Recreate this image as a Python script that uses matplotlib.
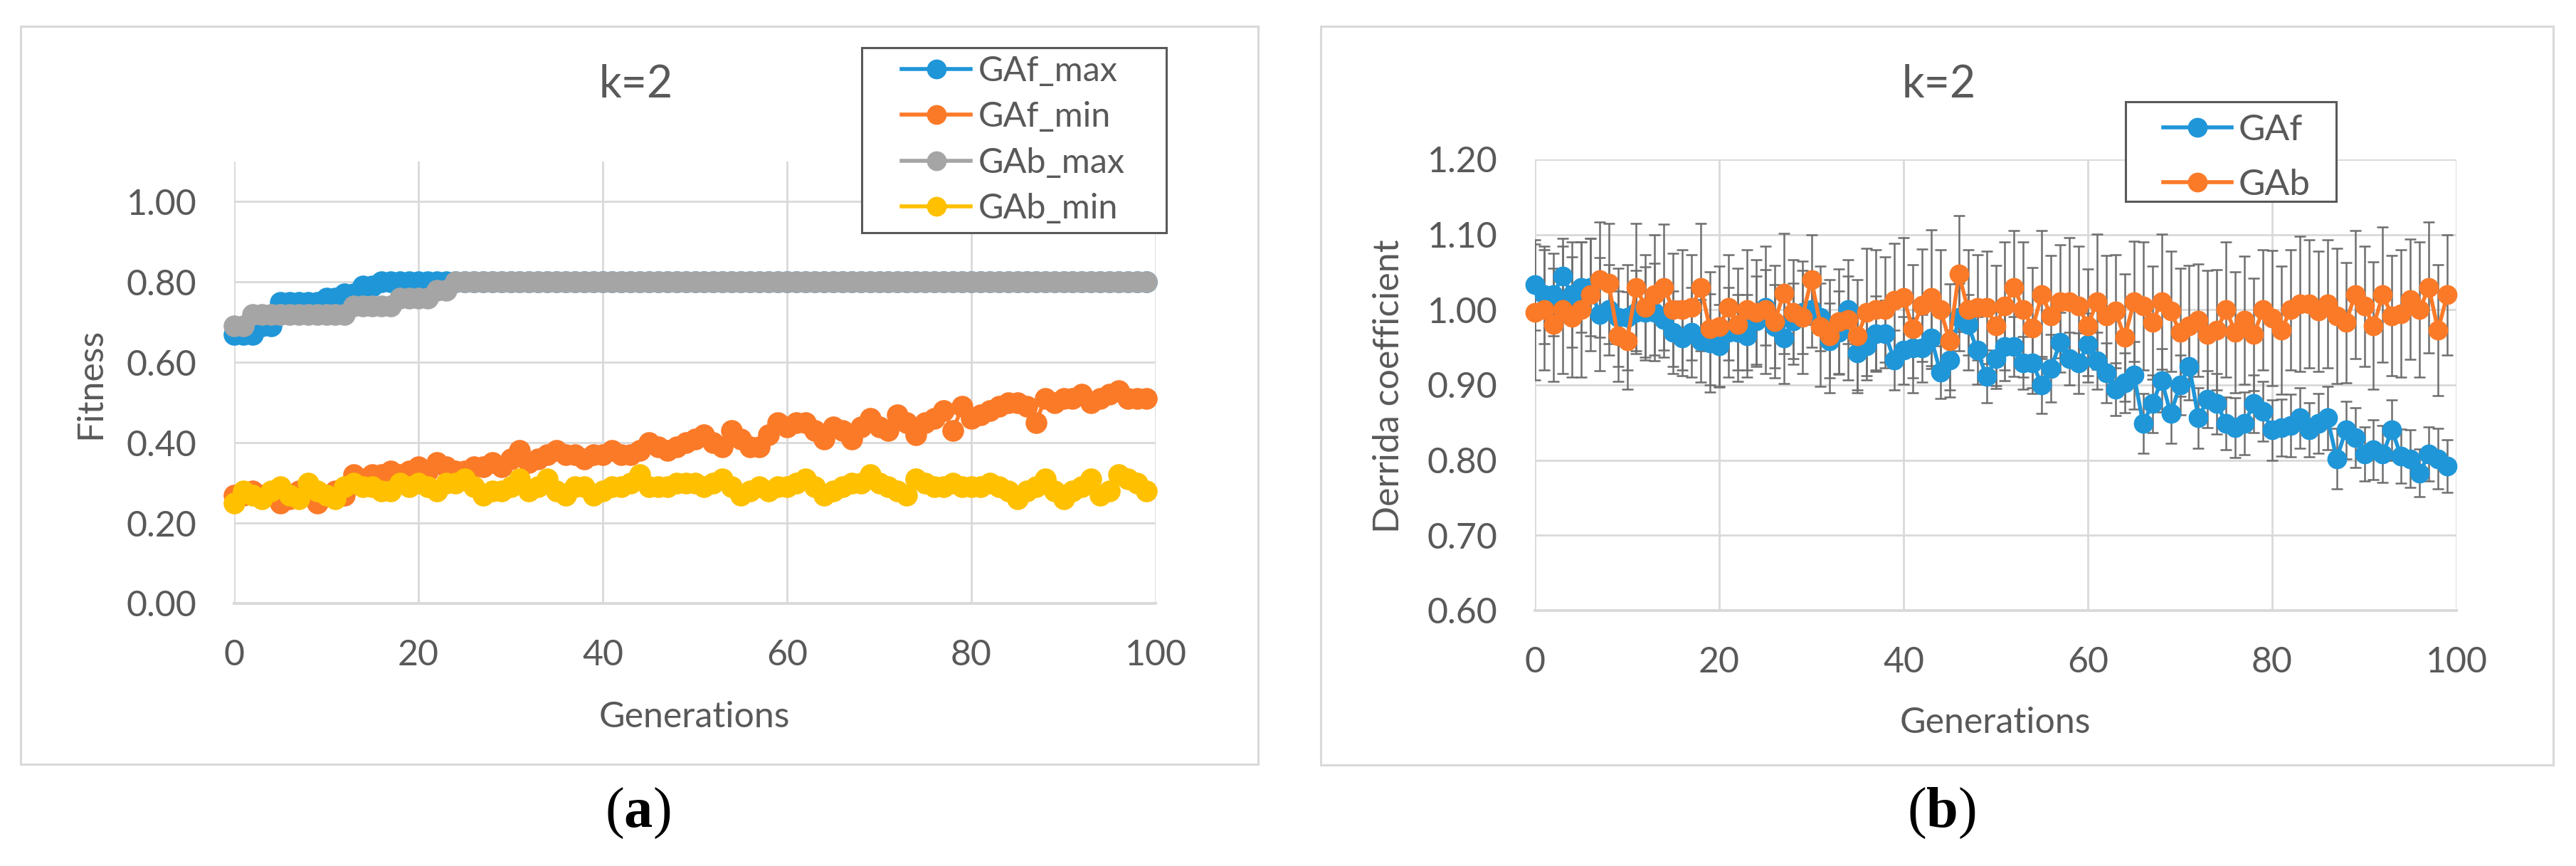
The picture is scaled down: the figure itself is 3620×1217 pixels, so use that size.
import matplotlib
matplotlib.use("Agg")
import matplotlib.pyplot as plt
from matplotlib.patches import Rectangle
from matplotlib.lines import Line2D
from matplotlib.ticker import FormatStrFormatter, FixedLocator

plt.rcParams['font.family'] = ['Lato', 'DejaVu Sans']
plt.rcParams['mathtext.fontset'] = 'custom'
plt.rcParams['mathtext.rm'] = 'Liberation Serif'
plt.rcParams['mathtext.bf'] = 'Liberation Serif:bold'

# ---------------- data ----------------
generations = list(range(100))

gaf_max = [0.67, 0.67, 0.67, 0.69, 0.69, 0.75, 0.75, 0.75, 0.75, 0.75,
           0.76, 0.76, 0.77, 0.77, 0.79, 0.79] + [0.80] * 84
gab_max = [0.69, 0.69] + [0.72] * 11 + [0.74] * 5 + [0.76] * 4 + [0.78] * 2 + [0.80] * 76

gaf_min = [0.27, 0.27, 0.28, 0.27, 0.27, 0.25, 0.26, 0.28, 0.27, 0.25,
           0.27, 0.28, 0.27, 0.32, 0.31, 0.32, 0.32, 0.33, 0.32, 0.33,
           0.34, 0.33, 0.35, 0.34, 0.33, 0.33, 0.34, 0.34, 0.35, 0.34,
           0.36, 0.38, 0.35, 0.36, 0.37, 0.38, 0.37, 0.37, 0.36, 0.37,
           0.37, 0.38, 0.37, 0.37, 0.38, 0.40, 0.39, 0.38, 0.39, 0.40,
           0.41, 0.42, 0.40, 0.39, 0.43, 0.41, 0.39, 0.39, 0.42, 0.45,
           0.44, 0.45, 0.45, 0.43, 0.41, 0.44, 0.43, 0.41, 0.44, 0.46,
           0.44, 0.43, 0.47, 0.45, 0.42, 0.45, 0.46, 0.48, 0.43, 0.49,
           0.46, 0.47, 0.48, 0.49, 0.50, 0.50, 0.49, 0.45, 0.51, 0.50,
           0.51, 0.51, 0.52, 0.50, 0.51, 0.52, 0.53, 0.51, 0.51, 0.51]

gab_min = [0.25, 0.28, 0.27, 0.26, 0.28, 0.29, 0.27, 0.26, 0.30, 0.28,
           0.27, 0.26, 0.29, 0.30, 0.29, 0.29, 0.28, 0.28, 0.30, 0.29,
           0.30, 0.29, 0.28, 0.30, 0.30, 0.31, 0.29, 0.27, 0.28, 0.28,
           0.29, 0.31, 0.28, 0.29, 0.31, 0.28, 0.27, 0.29, 0.29, 0.27,
           0.28, 0.29, 0.29, 0.30, 0.32, 0.29, 0.29, 0.29, 0.30, 0.30,
           0.30, 0.29, 0.30, 0.31, 0.29, 0.27, 0.28, 0.29, 0.28, 0.29,
           0.29, 0.30, 0.31, 0.29, 0.27, 0.28, 0.29, 0.30, 0.30, 0.32,
           0.30, 0.29, 0.28, 0.27, 0.31, 0.30, 0.29, 0.29, 0.30, 0.29,
           0.29, 0.29, 0.30, 0.29, 0.28, 0.26, 0.28, 0.29, 0.31, 0.28,
           0.26, 0.28, 0.29, 0.31, 0.27, 0.28, 0.32, 0.31, 0.30, 0.28]

derrida_gaf = [1.033, 1.020, 1.020, 1.045, 1.020, 1.030, 1.030, 0.994, 1.000, 0.990,
               0.990, 0.997, 0.997, 0.997, 0.987, 0.970, 0.962, 0.970, 0.959, 0.956,
               0.952, 0.970, 0.970, 0.965, 0.985, 1.003, 0.978, 0.962, 0.985, 0.997,
               1.000, 0.990, 0.959, 0.970, 1.000, 0.943, 0.952, 0.968, 0.968, 0.933,
               0.946, 0.949, 0.949, 0.962, 0.917, 0.933, 0.990, 0.980, 0.946, 0.911,
               0.935, 0.951, 0.951, 0.929, 0.929, 0.900, 0.922, 0.957, 0.935, 0.929,
               0.954, 0.932, 0.916, 0.894, 0.903, 0.913, 0.849, 0.875, 0.906, 0.862,
               0.900, 0.925, 0.856, 0.881, 0.875, 0.849, 0.843, 0.849, 0.875, 0.865,
               0.840, 0.843, 0.846, 0.856, 0.840, 0.849, 0.856, 0.802, 0.840, 0.830,
               0.808, 0.814, 0.808, 0.840, 0.805, 0.802, 0.783, 0.808, 0.802, 0.792]

derrida_gab = [0.997, 1.000, 0.980, 1.000, 0.990, 1.000, 1.020, 1.040, 1.035, 0.965,
               0.959, 1.030, 1.003, 1.020, 1.030, 1.000, 1.000, 1.003, 1.030, 0.975,
               0.978, 1.003, 0.980, 1.000, 0.997, 1.000, 0.984, 1.022, 0.997, 0.990,
               1.040, 0.978, 0.965, 0.984, 0.987, 0.965, 0.997, 1.000, 1.000, 1.013,
               1.016, 0.975, 1.006, 1.016, 1.000, 0.959, 1.048, 1.000, 1.003, 1.003,
               0.979, 1.005, 1.030, 1.000, 0.976, 1.020, 0.992, 1.011, 1.011, 1.005,
               0.979, 1.011, 0.992, 0.998, 0.963, 1.011, 1.005, 0.983, 1.011, 0.998,
               0.970, 0.979, 0.986, 0.967, 0.973, 1.000, 0.970, 0.986, 0.967, 1.000,
               0.989, 0.973, 1.000, 1.008, 1.008, 0.998, 1.008, 0.992, 0.983, 1.020,
               1.005, 0.979, 1.020, 0.992, 0.995, 1.014, 1.000, 1.030, 0.973, 1.020]

derrida_gaf_err = [0.060, 0.065, 0.055, 0.050, 0.070, 0.060, 0.065, 0.075, 0.060, 0.065,
                   0.070, 0.055, 0.060, 0.065, 0.050, 0.055, 0.050, 0.060, 0.055, 0.065,
                   0.055, 0.060, 0.050, 0.055, 0.060, 0.050, 0.055, 0.060, 0.050, 0.055,
                   0.050, 0.045, 0.050, 0.055, 0.045, 0.050, 0.045, 0.050, 0.045, 0.040,
                   0.045, 0.040, 0.045, 0.040, 0.035, 0.040, 0.045, 0.040, 0.045, 0.035,
                   0.040, 0.045, 0.040, 0.035, 0.040, 0.038, 0.045, 0.040, 0.035, 0.040,
                   0.042, 0.038, 0.040, 0.035, 0.040, 0.045, 0.040, 0.038, 0.042, 0.040,
                   0.040, 0.045, 0.040, 0.038, 0.040, 0.035, 0.040, 0.042, 0.038, 0.040,
                   0.040, 0.038, 0.042, 0.040, 0.036, 0.040, 0.042, 0.040, 0.038, 0.040,
                   0.036, 0.040, 0.038, 0.040, 0.036, 0.038, 0.032, 0.036, 0.040, 0.035]

derrida_gab_err = [0.090, 0.080, 0.075, 0.085, 0.080, 0.090, 0.075, 0.077, 0.080, 0.060,
                   0.065, 0.085, 0.070, 0.080, 0.084, 0.075, 0.080, 0.070, 0.085, 0.075,
                   0.080, 0.070, 0.075, 0.080, 0.070, 0.085, 0.075, 0.080, 0.070, 0.075,
                   0.060, 0.080, 0.075, 0.070, 0.080, 0.075, 0.085, 0.080, 0.070, 0.075,
                   0.080, 0.085, 0.075, 0.090, 0.080, 0.075, 0.077, 0.080, 0.070, 0.075,
                   0.080, 0.085, 0.075, 0.090, 0.080, 0.085, 0.080, 0.075, 0.085, 0.080,
                   0.075, 0.090, 0.080, 0.075, 0.085, 0.080, 0.085, 0.075, 0.090, 0.080,
                   0.085, 0.080, 0.075, 0.085, 0.080, 0.090, 0.080, 0.085, 0.075, 0.080,
                   0.090, 0.085, 0.080, 0.090, 0.085, 0.080, 0.085, 0.090, 0.080, 0.085,
                   0.080, 0.085, 0.090, 0.080, 0.085, 0.080, 0.090, 0.087, 0.087, 0.080]

fitness_ticks = [0.0, 0.2, 0.4, 0.6, 0.8, 1.0]
derrida_ticks = [0.6, 0.7, 0.8, 0.9, 1.0, 1.1, 1.2]
gen_ticks = [0, 20, 40, 60, 80, 100]

labels_a = ['GAf_max', 'GAf_min', 'GAb_max', 'GAb_min']
labels_b = ['GAf', 'GAb']

# ---------------- style ----------------
BLUE = '#1f96d8'
ORANGE = '#fb7a28'
GRAY = '#a5a5a5'
YELLOW = '#ffc000'
TXT = '#595959'
GRID = '#d9d9d9'
MS = 21
LW = 4

W, H, DPI = 3620, 1217, 100
fig = plt.figure(figsize=(W / DPI, H / DPI), dpi=DPI)
fig.patch.set_facecolor('white')


def fx(px):
    return px / W


def fy(py):
    return 1 - py / H


axL = fig.add_axes([fx(329), fy(848), (1624 - 329) / W, (848 - 227) / H])
axR = fig.add_axes([fx(2157), fy(858), (3452 - 2157) / W, (858 - 224) / H])

for ax in (axL, axR):
    for s in ('top', 'right', 'left'):
        ax.spines[s].set_visible(False)
    ax.spines['bottom'].set_color(GRID)
    ax.spines['bottom'].set_linewidth(2.8)
    ax.grid(True, color=GRID, linewidth=2.0)
    ax.set_axisbelow(True)
    ax.tick_params(length=0, labelsize=36, labelcolor=TXT)
    ax.tick_params(axis='y', pad=38)
    ax.tick_params(axis='x', pad=36)
    ax.set_xlim(0, 100)
    ax.xaxis.set_major_locator(FixedLocator(gen_ticks))
    ax.yaxis.set_major_formatter(FormatStrFormatter('%.2f'))

# ---- panel (a) ----
axL.set_ylim(0, 1.1)
axL.yaxis.set_major_locator(FixedLocator(fitness_ticks))
series_a = [(gaf_max, BLUE), (gaf_min, ORANGE), (gab_max, GRAY), (gab_min, YELLOW)]
for i, (vals, col) in enumerate(series_a):
    axL.plot(generations, vals, color=col, marker='o', markersize=MS,
             linewidth=LW, zorder=3 + i, clip_on=False)

# ---- panel (b) ----
axR.set_ylim(0.6, 1.2)
axR.yaxis.set_major_locator(FixedLocator(derrida_ticks))
axR.errorbar(generations, derrida_gaf, yerr=derrida_gaf_err, fmt='none',
             ecolor='#6e6e6e', elinewidth=1.8, capsize=6, capthick=1.8, zorder=2)
axR.errorbar(generations, derrida_gab, yerr=derrida_gab_err, fmt='none',
             ecolor='#6e6e6e', elinewidth=1.8, capsize=6, capthick=1.8, zorder=2)
axR.plot(generations, derrida_gaf, color=BLUE, marker='o', markersize=MS - 2,
         linewidth=LW, zorder=3, clip_on=False)
axR.plot(generations, derrida_gab, color=ORANGE, marker='o', markersize=MS - 2,
         linewidth=LW, zorder=4, clip_on=False)

# ---- chart frames ----
fig.add_artist(Rectangle((fx(29), fy(1074)), (1768 - 29) / W, (1074 - 37) / H,
                         transform=fig.transFigure, fill=False, ec=GRID, lw=2.2, zorder=0.5))
fig.add_artist(Rectangle((fx(1856), fy(1075)), (3588 - 1856) / W, (1075 - 37) / H,
                         transform=fig.transFigure, fill=False, ec=GRID, lw=2.2, zorder=0.5))

# ---- titles, axis labels ----
fig.text(fx(894), fy(119), 'k=2', ha='center', va='center', fontsize=45, color=TXT)
fig.text(fx(2725), fy(119), 'k=2', ha='center', va='center', fontsize=45, color=TXT)
fig.text(fx(127), fy(539), 'Fitness', ha='center', va='center', rotation=90,
         fontsize=36, color=TXT)
fig.text(fx(976), fy(1008), 'Generations', ha='center', va='center', fontsize=36, color=TXT)
fig.text(fx(1952), fy(543), 'Derrida coefficient', ha='center', va='center', rotation=90,
         fontsize=36, color=TXT)
fig.text(fx(2804), fy(1016), 'Generations', ha='center', va='center', fontsize=36, color=TXT)

# ---- panel letters ----
fig.text(fx(896), fy(1143), r'($\mathbf{a}$)', ha='center', va='center', fontsize=58,
         family='Liberation Serif', color='black')
fig.text(fx(2728), fy(1143), r'($\mathbf{b}$)', ha='center', va='center', fontsize=58,
         family='Liberation Serif', color='black')

# ---- legends ----
fig.add_artist(Rectangle((fx(1211), fy(327)), (1639 - 1211) / W, (327 - 67) / H,
                         transform=fig.transFigure, fc='white', ec=TXT, lw=2.2, zorder=5))
handles_a = [Line2D([], [], color=c, marker='o', markersize=MS - 2, linewidth=LW)
             for _, c in series_a]
legA = fig.legend(handles_a, labels_a, loc='upper left',
                  bbox_to_anchor=(fx(1267), fy(78)), bbox_transform=fig.transFigure,
                  frameon=False, borderpad=0, borderaxespad=0, handlelength=2.0,
                  handletextpad=0.22, labelspacing=0.42, fontsize=35)
legA.set_zorder(6)
for t in legA.get_texts():
    t.set_color(TXT)

fig.add_artist(Rectangle((fx(2987), fy(283)), (3283 - 2987) / W, (283 - 143) / H,
                         transform=fig.transFigure, fc='white', ec=TXT, lw=2.2, zorder=5))
handles_b = [Line2D([], [], color=c, marker='o', markersize=MS - 2, linewidth=LW)
             for c in (BLUE, ORANGE)]
legB = fig.legend(handles_b, labels_b, loc='upper left',
                  bbox_to_anchor=(fx(3040), fy(160)), bbox_transform=fig.transFigure,
                  frameon=False, borderpad=0, borderaxespad=0, handlelength=1.87,
                  handletextpad=0.19, labelspacing=0.6, fontsize=37)
legB.set_zorder(6)
for t in legB.get_texts():
    t.set_color(TXT)

fig.savefig('out.png', dpi=DPI, facecolor='white')
